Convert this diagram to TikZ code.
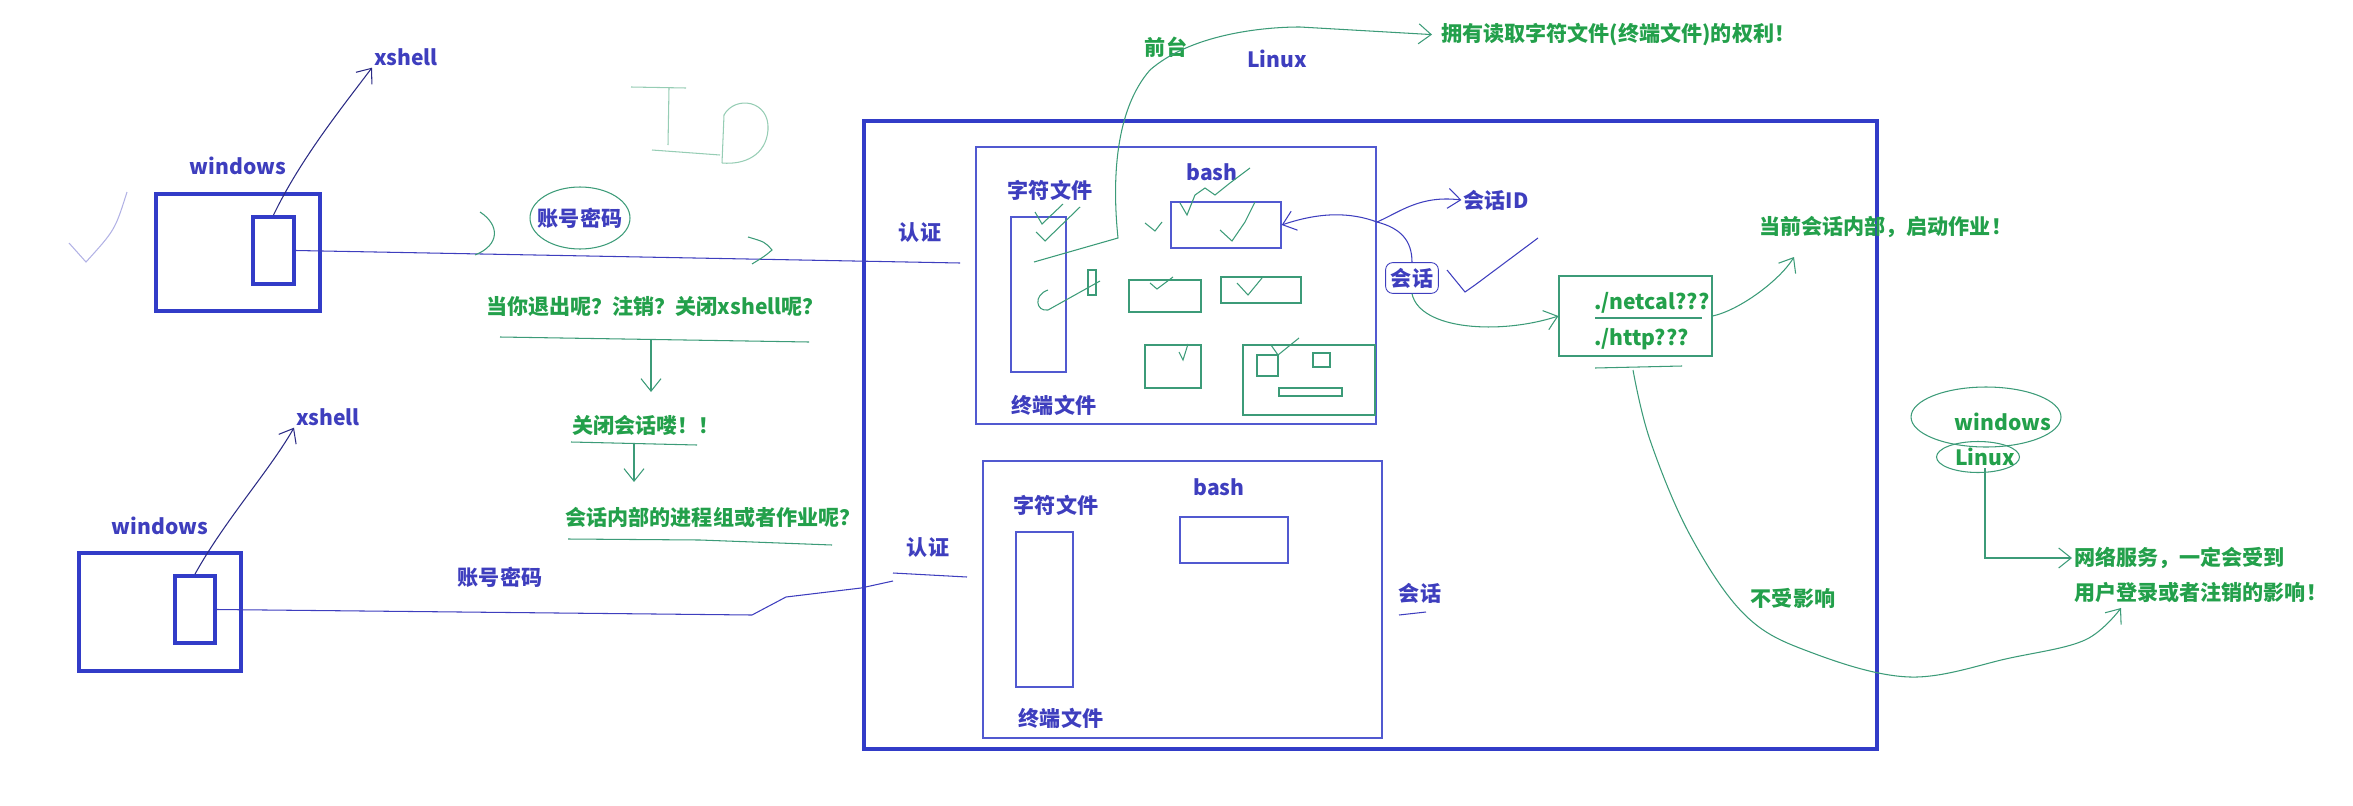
\documentclass[tikz,border=0pt]{standalone}
\usepackage{fontspec}
\setmainfont{Noto Sans CJK SC}
\usepackage{tikz}
\usetikzlibrary{arrows.meta, positioning, fit, shapes.geometric}
\definecolor{penblue}{RGB}{62,62,190}
\definecolor{boxblue}{RGB}{50,60,200}
\definecolor{pengreen}{RGB}{35,160,75}
\definecolor{inkgreen}{RGB}{60,155,120}
\definecolor{idgreen}{RGB}{150,205,180}

\begin{document}
\begin{tikzpicture}[
    x=0.02cm, y=-0.02cm,
    blab/.style={font=\fontsize{12}{14}\selectfont\bfseries, text=penblue, inner sep=1pt},
    glab/.style={font=\fontsize{12}{14}\selectfont\bfseries, text=pengreen, inner sep=1pt},
    thickbox/.style={draw=boxblue, line width=2.8pt, inner sep=0pt},
    scrbox/.style={draw=boxblue, line width=2.2pt, inner sep=0pt},
    thinbox/.style={draw=boxblue!85, line width=0.8pt, inner sep=0pt},
    jobrect/.style={draw=inkgreen, line width=0.7pt, inner sep=0pt},
    bline/.style={draw=penblue, line width=0.6pt},
    gline/.style={draw=inkgreen, line width=0.6pt},
    harrow/.style={-{Straight Barb[length=2.5mm, width=4mm]}}
]
\useasboundingbox (0,0) rectangle (2353,805);

\node[thickbox, fit={(156,194) (320,311)}] (win1box) {};
\node[scrbox, fit={(253,217) (294,284)}] (scr1) {};
\node[blab, above=0.3cm of win1box] (win1) {windows};
\node[blab] (xs1) at (406,57) {xshell};
\node[thickbox, fit={(79,553) (241,671)}] (win2box) {};
\node[scrbox, fit={(175,576) (215,643)}] (scr2) {};
\node[blab, above=0.28cm of win2box] (win2) {windows};
\node[blab] (xs2) at (328,417) {xshell};

\node[blab] (acc1) at (580,218) {账号密码};
\node[blab] (acc2) at (500,577) {账号密码};
\node[glab] (q1) at (655,306) {当你退出呢？注销？关闭xshell呢？};
\node[glab] (q2) at (646,425) {关闭会话喽！！};
\node[glab] (q3) at (713,518) {会话内部的进程组或者作业呢？};

\node[thickbox, fit={(864,121) (1877,749)}] (os) {};
\node[blab] (auth1) at (920,233) {认证};
\node[blab] (auth2) at (928,548) {认证};
\node[glab] (front) at (1166,47) {前台};
\node[blab] (linux1) at (1277,59) {Linux};
\node[glab, anchor=west] (right) at (1439,35) {拥有读取字符文件(终端文件)的权利！};

\node[thinbox, fit={(976,147) (1376,424)}] (sbox1) {};
\node[blab] (chr1) at (1050,190) {字符文件};
\node[thinbox, fit={(1011,217) (1066,372)}] (tty1) {};
\node[blab] (term1) at (1054,405) {终端文件};
\node[blab] (bash1) at (1212,172) {bash};
\node[thinbox, fit={(1171,202) (1281,248)}] (bsh1) {};
\node[jobrect, fit={(1129,280) (1201,312)}] (job1) {};
\node[jobrect, fit={(1221,277) (1301,303)}] (job2) {};
\node[jobrect, fit={(1145,345) (1201,388)}] (job3) {};
\node[jobrect, fit={(1243,345) (1375,415)}] (job4) {};
\node[jobrect, fit={(1257,355) (1278,376)}] (eye1) {};
\node[jobrect, fit={(1313,353) (1330,367)}] (eye2) {};
\node[jobrect, fit={(1279,388) (1342,396)}] (mouth) {};

\node[thinbox, fit={(983,461) (1382,738)}] (sbox2) {};
\node[blab] (chr2) at (1056,505) {字符文件};
\node[thinbox, fit={(1016,532) (1073,687)}] (tty2) {};
\node[blab] (term2) at (1061,718) {终端文件};
\node[blab] (bash2) at (1219,487) {bash};
\node[thinbox, fit={(1180,517) (1288,563)}] (bsh2) {};
\node[blab] (sess2) at (1420,593) {会话};

\node[blab, draw=penblue, line width=0.5pt, rounded corners=4pt, inner sep=3pt] (sess1) at (1412,278) {会话};
\node[blab] (sid) at (1496,200) {会话ID};
\node[jobrect, fit={(1559,276) (1712,356)}] (jobbox) {};
\node[glab, anchor=west] (nc) at (1592,303) {./netcal???};
\node[glab, anchor=west] (ht) at (1592,339) {./http???};
\node[glab, anchor=west] (job) at (1757,227) {当前会话内部，启动作业！};
\node[glab] (noaff) at (1793,598) {不受影响};

\node[glab] (win3) at (2003,422) {windows};
\node[glab] (linux3) at (1985,457) {Linux};
\node[glab, anchor=west] (net1) at (2072,558) {网络服务，一定会受到};
\node[glab, anchor=west] (net2) at (2072,593) {用户登录或者注销的影响！};

\coordinate (a1) at (960,263);
\coordinate (a2) at (967,577);
\coordinate (fork) at (1377,222);
\coordinate (ttyin) at (1034,262);
\coordinate (jobtip) at (1794,257);
\coordinate (ul) at (1633,370);
\coordinate (nettip) at (2121,608);

\draw[bline, draw=penblue!70!black, harrow] (scr1.north) .. controls (300,160) and (340,110) .. (xs1.south west);
\draw[bline, draw=penblue!70!black, harrow] (scr2.north) .. controls (225,520) and (270,470) .. (xs2.south west);
\draw[bline] (scr1.east) -- (a1);
\draw[bline] (scr2.east) -- (752,615) -- (786,597) -- (861,588) -- (893,581) (893,573) -- (a2);

\draw[gline] (acc1.center) ellipse [x radius=1cm, y radius=0.62cm];
\draw[gline] (480,212) .. controls (500,225) and (500,245) .. (475,255);
\draw[gline] (748,237) .. controls (765,242) .. (772,250) .. controls (765,256) .. (752,264);

\draw[gline] (500,337) -- (809,342);
\draw[gline, harrow] (651,340) -- (651,392);
\draw[gline] (571,442) -- (697,445);
\draw[gline, harrow] (634,444) -- (634,482);
\draw[gline] (568,539) -- (700,540) -- (832,545);

\draw[idgreen, line width=0.6pt] (631,87) -- (686,88) (669,88) -- (668,145) (652,150) -- (720,155)
    (722,163) -- (724,115) .. controls (735,95) and (770,100) .. (768,130) .. controls (766,155) and (745,165) .. (722,163);
\draw[penblue!40, line width=0.6pt] (127,192) .. controls (115,230) .. (86,262) -- (69,243);

\draw[gline, harrow, shorten >=4pt] (ttyin) -- (1118,238) .. controls (1112,180) and (1115,110) .. (1150,70) .. controls (1190,35) and (1260,27) .. (1300,27) -- (right.west);
\draw[gline] (1048,290) .. controls (1033,295) and (1036,312) .. (1048,310) -- (1100,281);
\draw[gline] (1088,270) rectangle (1096,295);
\draw[gline] (1035,212) -- (1042,224) -- (1063,204);
\draw[gline] (1036,232) -- (1045,241) -- (1080,207);
\draw[gline] (1180,203) -- (1187,215) -- (1195,195) -- (1205,188) -- (1215,195) -- (1230,183) -- (1250,168);
\draw[gline] (1220,230) -- (1232,241) -- (1245,222) -- (1255,202);
\draw[gline] (1145,223) -- (1155,231) -- (1162,222);
\draw[gline] (1150,283) -- (1157,289) -- (1173,277);
\draw[gline] (1237,283) -- (1248,295) -- (1262,278);
\draw[gline] (1179,352) -- (1183,360) -- (1188,344);
\draw[gline] (1271,345) -- (1278,355) -- (1299,338);

\draw[bline] (sess1.north) .. controls (1412,240) and (1400,228) .. (fork);
\draw[bline, harrow] (fork) .. controls (1350,212) and (1320,212) .. (bsh1.east);
\draw[bline, harrow] (fork) .. controls (1400,212) and (1420,195) .. (sid.west);
\draw[bline] (1447,270) -- (1465,292) -- (1475,285) -- (1538,238);
\draw[gline, harrow] (sess1.south) .. controls (1420,330) and (1500,335) .. (jobbox.west);
\draw[gline] (1595,318) -- (1702,318);
\draw[gline, harrow] (jobbox.east) .. controls (1740,310) and (1780,280) .. (jobtip);
\draw[gline] (1595,368) -- (1682,366);
\draw[gline, harrow] plot[smooth, tension=0.6] coordinates {(ul) (1650,440) (1690,535) (1745,615) (1810,652) (1910,677) (2010,658) (2085,640) (nettip)};
\draw[bline] (1399,615) -- (1426,612);

\draw[gline] ([xshift=-0.34cm, yshift=0.1cm]win3.center) ellipse [x radius=1.5cm, y radius=0.6cm];
\draw[gline] ([xshift=-0.14cm]linux3.center) ellipse [x radius=0.83cm, y radius=0.31cm];
\draw[gline, harrow] (linux3.south) |- (net1.west);
\end{tikzpicture}
\end{document}
